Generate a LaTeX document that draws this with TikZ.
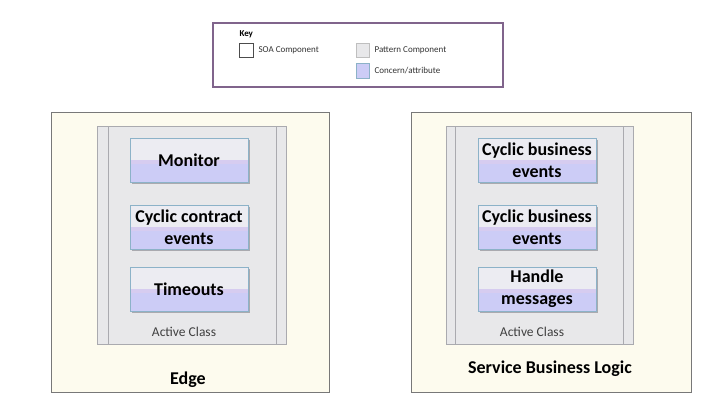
\documentclass[tikz,border=0pt]{standalone}
\usepackage{fontspec}
\setmainfont{Carlito}
\definecolor{keyline}{RGB}{128, 100, 140}
\definecolor{panelfill}{RGB}{253, 251, 238}
\definecolor{panelline}{RGB}{120, 120, 120}
\definecolor{classfill}{RGB}{232, 232, 234}
\definecolor{classline}{RGB}{170, 170, 175}
\definecolor{contop}{RGB}{236, 236, 242}
\definecolor{conbot}{RGB}{204, 204, 246}
\definecolor{conband}{RGB}{214, 204, 240}
\definecolor{conline}{RGB}{140, 178, 200}
\definecolor{shadowgrey}{RGB}{170, 170, 175}

\begin{document}
\begin{tikzpicture}[x=1pt, y=-1pt,
    concern/.style={draw=conline, line width=0.9pt, fill=contop,
        minimum width=118pt, minimum height=44pt, inner sep=0pt,
        align=center, font=\bfseries\fontsize{18}{22}\selectfont,
        path picture={
            \fill[conbot] (path picture bounding box.south west) rectangle ([yshift=18pt]path picture bounding box.south east);
            \fill[conband] ([yshift=18pt]path picture bounding box.south west) rectangle ([yshift=22pt]path picture bounding box.south east);
        }},
    title/.style={font=\bfseries\fontsize{18}{20}\selectfont},
    classlabel/.style={font=\fontsize{13.5}{15}\selectfont, text=black!75},
    keytext/.style={font=\fontsize{9}{10}\selectfont, anchor=west, text=black!80}]
    \useasboundingbox (0,0) rectangle (722,408);

    % key
    \draw[keyline, line width=1.2pt, fill=white] (213,23) rectangle (503,87);
    \node[font=\bfseries\fontsize{9}{10}\selectfont, anchor=west] (key) at (236,34) {Key};
    \draw[black!70, fill=white] (239,43) rectangle (253,57);
    \node[keytext] (soa) at (255,50) {SOA Component};
    \draw[black!25, fill=classfill] (356,43) rectangle (369,57);
    \node[keytext] (pattern) at (371,50) {Pattern Component};
    \draw[conline, fill=conbot] (356,63) rectangle (369,78);
    \node[keytext] (concernkey) at (371,71) {Concern/attribute};

    % panels
    \draw[panelline, line width=1pt, fill=panelfill] (51,112) rectangle (329,392);
    \draw[panelline, line width=1pt, fill=panelfill] (411,112) rectangle (691,392);

    % active classes
    \draw[classline, fill=classfill] (97,126) rectangle (286,344);
    \draw[classline] (108,126) -- (108,344) (276,126) -- (276,344);
    \draw[classline, fill=classfill] (446,126) rectangle (633,344);
    \draw[classline] (455,126) -- (455,344) (623,126) -- (623,344);

    % shadows
    \foreach \xa/\ya in {130/138, 130/205, 130/267, 478/138, 478/205, 478/267}
        \fill[shadowgrey] (\xa+2,\ya+2) rectangle (\xa+120,\ya+46);

    \node[concern] (monitor) at (189,160) {Monitor};
    \node[concern] (contract) at (189,227) {Cyclic contract\\events};
    \node[concern] (timeouts) at (189,289) {Timeouts};
    \node[classlabel] (activeleft) at (184,332) {Active Class};
    \node[title] (edge) at (188,380) {Edge};

    \node[concern] (business1) at (537,160) {Cyclic business\\events};
    \node[concern] (business2) at (537,227) {Cyclic business\\events};
    \node[concern] (handle) at (537,289) {Handle\\messages};
    \node[classlabel] (activeright) at (532,332) {Active Class};
    \node[title] (sbl) at (550,369) {Service Business Logic};
\end{tikzpicture}
\end{document}
